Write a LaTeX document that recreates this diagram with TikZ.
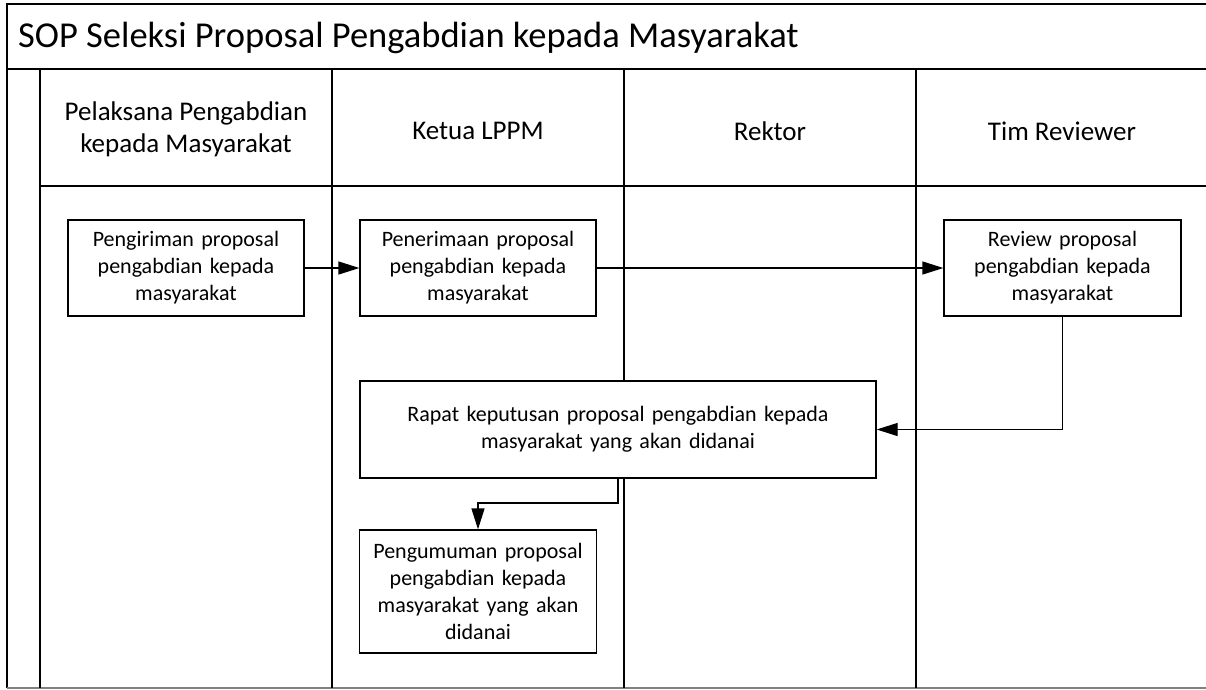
\documentclass[tikz,border=0pt]{standalone}
\usepackage{fontspec}
\setmainfont{Carlito}
\usetikzlibrary{arrows.meta}
\begin{document}
\begin{tikzpicture}[x=1pt,y=-1pt,
  frame/.style={line width=1.8pt},
  lane/.style={line width=1.5pt},
  proc/.style={draw,line width=1.3pt,fill=white,align=center,inner sep=0pt,
     font=\fontsize{22}{27}\selectfont},
  head/.style={align=center,font=\fontsize{27}{32}\selectfont},
  arr/.style={line width=1.3pt,-{Triangle[length=21pt,width=13pt]}}]
\useasboundingbox (0,0) rectangle (1206,689);
\fill[white] (0,0) rectangle (1206,689);
% frame
\draw[frame] (1212,4) -- (7,4) -- (7,688);
\draw[line width=1.5pt,gray] (7,688.2) -- (1212,688.2);
\draw[frame] (7,69) -- (1212,69);
\draw[lane] (40,69) -- (40,688);
\draw[lane] (40,186) -- (1212,186);
\draw[lane] (332,69) -- (332,688);
\draw[lane] (624,69) -- (624,688);
\draw[lane] (916,69) -- (916,688);
% title and headers
\node[anchor=west,font=\fontsize{36.5}{42}\selectfont,inner sep=0pt] (title) at (18,38) {SOP Seleksi Proposal Pengabdian kepada Masyarakat};
\node[head] (h1) at (186,129) {Pelaksana Pengabdian\\kepada Masyarakat};
\node[head] (h2) at (478,131) {Ketua LPPM};
\node[head] (h3) at (770,131) {Rektor};
\node[head] (h4) at (1062,131) {Tim Reviewer};
% process boxes
\node[proc,minimum width=236pt,minimum height=96pt,text width=225pt] (b1) at (186,268) {Pengiriman proposal\\pengabdian kepada\\masyarakat};
\node[proc,minimum width=236pt,minimum height=96pt,text width=225pt] (b2) at (478,268) {Penerimaan proposal\\pengabdian kepada\\masyarakat};
\node[proc,minimum width=237pt,minimum height=96pt,text width=225pt] (b3) at (1062.5,268) {Review proposal\\pengabdian kepada\\masyarakat};
\node[proc,minimum width=516pt,minimum height=97pt,text width=505pt] (big) at (618,429.5) {Rapat keputusan proposal pengabdian kepada\\masyarakat yang akan didanai};
\node[proc,minimum width=237pt,minimum height=123pt,text width=225pt] (b4) at (478,591.5) {Pengumuman proposal\\pengabdian kepada\\masyarakat yang akan\\didanai};
% connectors
\coordinate (m) at (618,503);
\draw[arr] (b1.east) -- (b2.west);
\draw[arr] (b2.east) -- (b3.west);
\draw[arr] (b3.south) |- (big.east);
\draw[arr] (big.south) -- (m) -| (b4.north);
\end{tikzpicture}
\end{document}
